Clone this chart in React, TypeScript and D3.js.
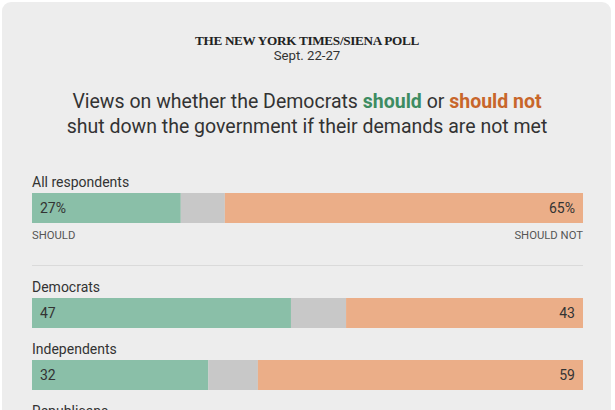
import { scaleLinear, stack } from "d3";

const groups = ["All respondents", "Democrats", "Independents", "Republicans"];
const shouldValues = [27, 47, 32, 9];
const shouldNotValues = [65, 43, 59, 86];
const valueLabels = [["27%", "65%"], ["47", "43"], ["32", "59"], ["9", "86"]];
const endLabels = ["SHOULD", "SHOULD NOT"];

const width = 615;
const height = 410;
const barLeft = 32;
const barRight = 583;
const barHeight = 30;
const sans = "Roboto, 'Noto Sans', sans-serif";

const colors: Record<string, string> = {
  should: "#8abfa8",
  unsure: "#c8c8c8",
  shouldNot: "#ebae88"
};

interface Row {
  readonly group: string;
  readonly should: number;
  readonly unsure: number;
  readonly shouldNot: number;
}

const rows: Row[] = groups.map((group, i) => ({
  group,
  should: shouldValues[i],
  unsure: 100 - shouldValues[i] - shouldNotValues[i],
  shouldNot: shouldNotValues[i]
}));

export default function App(): React.JSX.Element {
  const x = scaleLinear().domain([0, 100]).range([barLeft, barRight]);
  // first row sits apart, the party rows follow at a fixed step
  const partyY = scaleLinear().domain([1, 2]).range([298, 360]);
  const rowY = (i: number) => (i === 0 ? 193 : partyY(i));
  const series = stack<Row>().keys(["should", "unsure", "shouldNot"])(rows);

  return (
    <>
      <style>{"body{margin:0}"}</style>
      <svg width={width} height={height} viewBox={`0 0 ${width} ${height}`} style={{ display: "block" }}>
        <rect x={0} y={0} width={width} height={height} fill="#ffffff" />
        <rect x={2} y={2} width={609} height={height + 20} rx={9} fill="#ededed" />

        <text x={307} y={45} textAnchor="middle" fontFamily="'Liberation Serif', serif" fontWeight={700}
          fontSize={13.2} fill="#222" letterSpacing={-0.3}>
          THE NEW YORK TIMES/SIENA POLL
        </text>
        <text x={307} y={60} textAnchor="middle" fontFamily={sans} fontSize={13.2} fill="#333">
          Sept. 22-27
        </text>

        <text x={307} y={108} textAnchor="middle" fontFamily={sans} fontSize={19.5} fill="#333">
          Views on whether the Democrats{" "}
          <tspan fill="#3d8c62" fontWeight={700}>should</tspan> or{" "}
          <tspan fill="#c8662b" fontWeight={700}>should not</tspan>
        </text>
        <text x={307} y={133} textAnchor="middle" fontFamily={sans} fontSize={19.5} fill="#333">
          shut down the government if their demands are not met
        </text>

        {rows.map((row, i) => {
          const y = rowY(i);
          return (
            <g key={row.group}>
              <text x={barLeft} y={y - 6} fontFamily={sans} fontSize={14} fill="#333">
                {row.group}
              </text>
              {series.map((s) => (
                <rect key={s.key} x={x(s[i][0])} y={y} width={x(s[i][1]) - x(s[i][0])}
                  height={barHeight} fill={colors[s.key]} />
              ))}
              <text x={barLeft + 8} y={y + 20} fontFamily={sans} fontSize={14} fill="#333">
                {valueLabels[i][0]}
              </text>
              <text x={barRight - 8} y={y + 20} textAnchor="end" fontFamily={sans} fontSize={14} fill="#333">
                {valueLabels[i][1]}
              </text>
            </g>
          );
        })}

        <text x={barLeft} y={239} fontFamily={sans} fontSize={11.3} fill="#555">{endLabels[0]}</text>
        <text x={barRight} y={239} textAnchor="end" fontFamily={sans} fontSize={11.3} fill="#555">{endLabels[1]}</text>
        <line x1={barLeft} x2={barRight} y1={265.5} y2={265.5} stroke="#dadada" strokeWidth={1} />
      </svg>
    </>
  );
}
